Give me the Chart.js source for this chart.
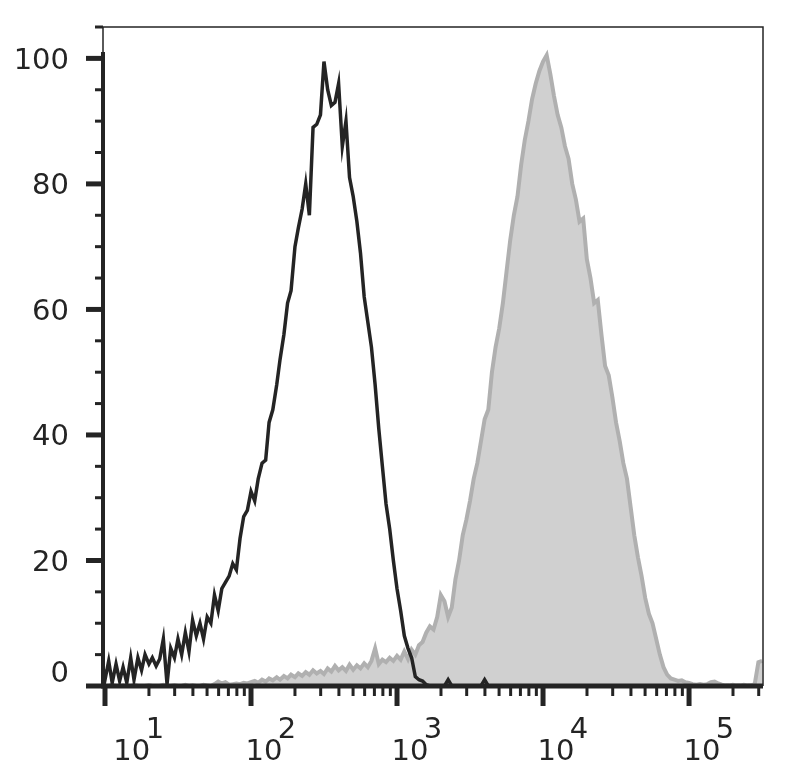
<!DOCTYPE html>
<html>
<head>
<meta charset="utf-8">
<script src="https://cdn.jsdelivr.net/npm/chart.js@4.4.1/dist/chart.umd.min.js"></script>
<style>
  html, body { margin: 0; padding: 0; background: #fff; }
  #wrap { width: 795px; height: 780px; }
</style>
</head>
<body>
<div id="wrap"><canvas id="histogram" width="795" height="780"></canvas></div>
<script>
// fluorescence channel (bin positions, log spaced)
const channel = [
    9.69,
    10, 10.6, 11.2, 11.9, 12.6, 13.3, 14.1, 15, 15.8, 16.8, 17.8, 18.8, 20, 21.1, 22.4, 23.7, 25.1, 26.6, 28.2, 29.9,
    31.6, 33.5, 35.5, 37.6, 39.8, 42.2, 44.7, 47.3, 50.1, 53.1, 56.2, 59.6, 63.1, 66.8, 70.8, 75, 79.4, 84.1, 89.1, 94.4,
    100, 106, 112, 119, 126, 133, 141, 150, 158, 168, 178, 188, 200, 211, 224, 237, 251, 266, 282, 299,
    316, 335, 355, 376, 398, 422, 447, 473, 501, 531, 562, 596, 631, 668, 708, 750, 794, 841, 891, 944,
    1000, 1059, 1122, 1189, 1259, 1334, 1413, 1496, 1585, 1679, 1778, 1884, 1995, 2113, 2239, 2371, 2512, 2661, 2818, 2985,
    3162, 3350, 3548, 3758, 3981, 4217, 4467, 4732, 5012, 5309, 5623, 5957, 6310, 6683, 7079, 7499, 7943, 8414, 8913, 9441,
    10000, 10590, 11220, 11890, 12590, 13340, 14130, 14960, 15850, 16790, 17780, 18840, 19950, 21130, 22390, 23710, 25120, 26610, 28180, 29850,
    31620, 33500, 35480, 37580, 39810, 42170, 44670, 47320, 50120, 53090, 56230, 59570, 63100, 66830, 70790, 74990, 79430, 84140, 89130, 94410,
    100000, 105900, 112200, 118900, 125900, 133400, 141300, 149600, 158500, 167900, 177800, 188400, 199500, 211300, 223900, 237100, 251200, 266100, 281800, 298500,
    316200
];

// isotype control (black line), % of max
const isotype = [
    3,
    1, 4, 0.5, 3.5, 0.8, 3, 0.5, 4.5, 1, 4.5,
    2.5, 5, 3.5, 4.5, 3.2, 4.3, 7.5, 0.3, 6, 4.5,
    7.5, 5, 8.5, 5.5, 10.5, 8, 10, 7.5, 11, 10,
    14.5, 12, 15.5, 16.5, 17.5, 19.5, 18.5, 23.5, 27, 28,
    31, 29.5, 33, 35.5, 36, 42, 44, 48, 52, 56,
    61, 63, 70, 73, 76, 80, 75, 89, 89.5, 91,
    99.5, 95, 92.5, 93, 96, 86, 90, 81, 78, 74,
    69, 62, 58, 54, 48, 41, 35, 29, 25, 20,
    15.5, 12, 8, 6, 4.5, 1.5, 1, 0.8, 0.2, 0,
    0, 0, 0, 0, 1, 0, 0, 0, 0, 0,
    0, 0, 0, 0, 1, 0, 0, 0, 0, 0,
    0, 0, 0, 0, 0, 0, 0, 0, 0, 0,
    0, 0, 0, 0, 0, 0, 0, 0, 0, 0,
    0, 0, 0, 0, 0, 0, 0, 0, 0, 0,
    0, 0, 0, 0, 0, 0, 0, 0, 0, 0,
    0, 0, 0, 0, 0, 0, 0, 0, 0, 0,
    0, 0, 0, 0, 0, 0, 0, 0, 0, 0,
    0, 0, 0, 0, 0, 0, 0, 0, 0, 0,
    0
];

// stained sample (grey filled), % of max
const stained = [
    0,
    0, 0, 0.2, 0, 0, 0.1, 0, 0, 0.2, 0,
    0, 0, 0.1, 0, 0, 0, 0.2, 0, 0, 0.1,
    0, 0, 0.2, 0, 0.1, 0, 0, 0.2, 0.1, 0,
    0.3, 0.7, 0.4, 0.6, 0.2, 0.3, 0.4, 0.3, 0.5, 0.4,
    0.6, 0.8, 0.5, 1, 0.7, 1.2, 0.9, 1.4, 1, 1.6,
    1.2, 1.8, 1.4, 2, 1.6, 2.2, 1.8, 2.5, 2, 2.4,
    1.9, 2.8, 2.3, 3.2, 2.5, 3, 2.4, 3.4, 2.6, 3.3,
    2.8, 3.6, 3, 4, 6, 3.5, 4.2, 3.8, 4.5, 4,
    4.8, 4.2, 5.5, 4.3, 5.8, 5, 6.5, 7, 8.5, 9.5,
    9, 11, 14.5, 13.5, 11, 12.5, 17, 20, 24, 26.5,
    29.5, 33, 35.5, 39, 42.5, 44, 50, 54, 57, 61,
    66, 71, 75, 78, 83, 87, 90, 93.5, 96, 98,
    99.5, 100.5, 97.5, 94, 91, 89, 86, 84, 80, 77.5,
    74, 74.5, 68, 65, 61, 61.5, 56, 51, 49.5, 46,
    42, 39, 35.5, 33, 28.5, 24, 20.5, 17.5, 14, 11.5,
    10, 7.5, 5, 3, 1.8, 1.2, 1, 0.8, 0.9, 0.6,
    0.5, 0.3, 0.2, 0.3, 0.2, 0.3, 0.6, 0.7, 0.4, 0.2,
    0.1, 0.1, 0.2, 0.1, 0.1, 0.2, 0.1, 0.1, 0.3, 3.8,
    4
];

const yTickValues = [0, 5, 10, 15, 20, 25, 30, 35, 40, 45, 50, 55, 60, 65, 70, 75, 80, 85, 90, 95, 100, 105];
const yTickLabels = ['0', '20', '40', '60', '80', '100'];
const xDecades = [10, 100, 1000, 10000, 100000];
const xExponents = ['1', '2', '3', '4', '5'];

const X_MIN = 9.69;
const X_MAX = 321000;
const INK = '#242424';
const FONT_FAMILY = '"DejaVu Sans", sans-serif';

// decade ticks plus the 2..9 minor ticks in between
const xTickValues = [];
xDecades.forEach(d => {
    xTickValues.push(d);
    for (let m = 2; m <= 9; m++) {
        if (d * m <= X_MAX) xTickValues.push(d * m);
    }
});

// frame, thick axes and tick marks in the cytometry style
const axisFrame = {
    id: 'axisFrame',
    afterDraw(chart) {
        const { ctx, chartArea: a, scales: { x, y } } = chart;
        ctx.save();
        ctx.strokeStyle = INK;
        ctx.lineCap = 'butt';

        // thin top / right border
        ctx.lineWidth = 1.5;
        ctx.beginPath();
        ctx.moveTo(a.left, a.top);
        ctx.lineTo(a.right, a.top);
        ctx.lineTo(a.right, a.bottom);
        ctx.moveTo(a.left, a.top);
        ctx.lineTo(a.left, y.getPixelForValue(101));
        ctx.stroke();

        // thick left axis
        ctx.lineWidth = 4;
        ctx.beginPath();
        ctx.moveTo(a.left, y.getPixelForValue(101));
        ctx.lineTo(a.left, a.bottom + 2);
        ctx.stroke();

        // thick bottom axis
        ctx.lineWidth = 5;
        ctx.beginPath();
        ctx.moveTo(a.left - 2, a.bottom);
        ctx.lineTo(a.right, a.bottom);
        ctx.stroke();

        // y tick marks
        y.ticks.forEach(t => {
            const major = t.value % 20 === 0;
            const py = y.getPixelForValue(t.value);
            ctx.lineWidth = major ? 5 : 3;
            ctx.beginPath();
            ctx.moveTo(a.left - (major ? 17 : 8), py);
            ctx.lineTo(a.left, py);
            ctx.stroke();
        });

        // x tick marks
        x.ticks.forEach(t => {
            const major = xDecades.includes(t.value);
            const px = x.getPixelForValue(t.value);
            ctx.lineWidth = major ? 5 : 3;
            ctx.beginPath();
            ctx.moveTo(px, a.bottom);
            ctx.lineTo(px, a.bottom + (major ? 20 : 10));
            ctx.stroke();
        });
        ctx.restore();
    }
};

const ctx = document.getElementById('histogram').getContext('2d');
new Chart(ctx, {
    type: 'line',
    data: {
        datasets: [
            {
                label: 'Isotype',
                data: channel.map((c, i) => ({ x: c, y: isotype[i] })),
                borderColor: INK,
                borderWidth: 3.5,
                fill: false,
                tension: 0,
                pointRadius: 0,
                order: 1
            },
            {
                label: 'Stained',
                data: channel.map((c, i) => ({ x: c, y: stained[i] })),
                borderColor: 'rgb(176, 176, 176)',
                backgroundColor: 'rgb(208, 208, 208)',
                borderWidth: 4,
                fill: 'origin',
                tension: 0,
                pointRadius: 0,
                order: 2
            }
        ]
    },
    options: {
        responsive: false,
        animation: false,
        layout: {
            padding: { left: 0, right: 32, top: 27, bottom: 0 }
        },
        scales: {
            x: {
                type: 'logarithmic',
                min: X_MIN,
                max: X_MAX,
                grid: { display: false },
                border: { display: false },
                afterBuildTicks: scale => {
                    scale.ticks = xTickValues.map(v => ({ value: v }));
                },
                afterFit: scale => {
                    scale.height = 94;
                    scale.paddingLeft = 0;
                    scale.paddingRight = 0;
                },
                ticks: {
                    autoSkip: false,
                    maxRotation: 0,
                    minRotation: 0,
                    padding: 25,
                    labelOffset: 13,
                    color: INK,
                    font: { family: FONT_FAMILY, size: 29, lineHeight: 0.78 },
                    callback: value => {
                        const k = xDecades.indexOf(value);
                        if (k < 0) return '';
                        const supLead = k === 0 ? '        ' : '     ';
                        const lead = k === 0 ? '   ' : '';
                        return [supLead + xExponents[k], lead + '10'];
                    }
                }
            },
            y: {
                min: 0,
                max: 105,
                grid: { display: false },
                border: { display: false },
                afterBuildTicks: scale => {
                    scale.ticks = yTickValues.map(v => ({ value: v }));
                },
                afterFit: scale => {
                    scale.width = 103;
                    scale.paddingTop = 0;
                    scale.paddingBottom = 0;
                },
                ticks: {
                    autoSkip: false,
                    padding: 26,
                    labelOffset: 3,
                    color: INK,
                    font: { family: FONT_FAMILY, size: 29, lineHeight: 1 },
                    callback: value => {
                        if (value % 20 !== 0) return '';
                        const label = yTickLabels[value / 20];
                        return value === 0 ? [label, ''] : label;
                    }
                }
            }
        },
        plugins: {
            legend: { display: false },
            tooltip: { enabled: false }
        }
    },
    plugins: [axisFrame]
});
</script>
</body>
</html>
